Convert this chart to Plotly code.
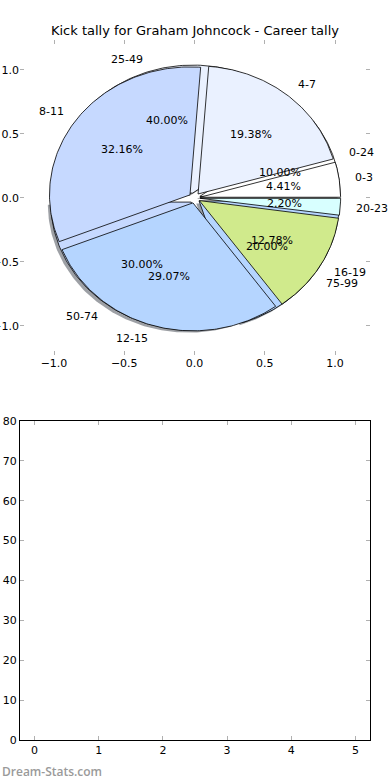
import numpy as np
import plotly.graph_objects as go

title = "Kick tally for Graham Johncock - Career tally"
quarter_labels = ["0-3", "4-7", "8-11", "12-15", "16-19", "20-23"]
quarter_pct = [4.41, 19.38, 32.16, 29.07, 12.78, 2.20]
quarter_colors = ["#ffffff", "#eaf1ff", "#c6d9ff", "#b5d5ff", "#d0ea8c", "#d8ffff"]
score_labels = ["0-24", "25-49", "50-74", "75-99"]
score_pct = [10.0, 40.0, 30.0, 20.0]
score_colors = ["#ffffff", "#eaf1ff", "#c6d9ff", "#b5d5ff"]
pie_ticks = [-1.0, -0.5, 0.0, 0.5, 1.0]
bar_x_ticks = [0, 1, 2, 3, 4, 5]
bar_y_ticks = [0, 10, 20, 30, 40, 50, 60, 70, 80]

EXPLODE = 0.04
FONT = "DejaVu Sans"

fig = go.Figure()
annotations = []


def darken(hexcol, f=0.3):
    h = hexcol.lstrip("#")
    r, g, b = (int(h[i:i + 2], 16) for i in (0, 2, 4))
    return f"rgba({int(r*f)},{int(g*f)},{int(b*f)},0.5)"


def add_pie(labels, values, colors, shadow):
    total = float(sum(values))
    theta1 = 0.0
    for lab, val, col in zip(labels, values, colors):
        frac = val / total
        theta2 = theta1 + frac
        thetam = np.pi * (theta1 + theta2)
        cx = EXPLODE * np.cos(thetam)
        cy = EXPLODE * np.sin(thetam)
        angs = np.linspace(2 * np.pi * theta1, 2 * np.pi * theta2, 120)
        xs = np.concatenate([[cx], cx + np.cos(angs), [cx]])
        ys = np.concatenate([[cy], cy + np.sin(angs), [cy]])
        if shadow:
            fig.add_trace(go.Scatter(x=xs - 0.02, y=ys - 0.02, mode="lines", fill="toself",
                                     fillcolor=darken(col), line=dict(width=0),
                                     hoverinfo="skip", showlegend=False, xaxis="x", yaxis="y"))
        fig.add_trace(go.Scatter(x=xs, y=ys, mode="lines", fill="toself",
                                 fillcolor=col, line=dict(color="black", width=0.8),
                                 name=lab, hoverinfo="name", showlegend=False,
                                 xaxis="x", yaxis="y"))
        xt = cx + 1.1 * np.cos(thetam)
        yt = cy + 1.1 * np.sin(thetam)
        annotations.append(dict(x=xt, y=yt, xref="x", yref="y", text=lab, showarrow=False,
                                xanchor="left" if xt > 0 else "right", yanchor="middle",
                                font=dict(family=FONT, size=11, color="black")))
        xp = cx + 0.6 * np.cos(thetam)
        yp = cy + 0.6 * np.sin(thetam)
        annotations.append(dict(x=xp, y=yp, xref="x", yref="y", text=f"{val:.2f}%",
                                showarrow=False, xanchor="center", yanchor="middle",
                                font=dict(family=FONT, size=11, color="black")))
        theta1 = theta2


add_pie(score_labels, score_pct, score_colors, shadow=True)
add_pie(quarter_labels, quarter_pct, quarter_colors, shadow=False)

# empty bottom axes
fig.add_trace(go.Scatter(x=[], y=[], xaxis="x2", yaxis="y2", showlegend=False))

annotations.append(dict(x=-20 / 350, y=(740 - 771) / 700, xref="paper", yref="paper",
                        text="Dream-Stats.com", showarrow=False, xanchor="left",
                        yanchor="middle",
                        font=dict(family="Open Sans", size=12, color="#9a9a9a", weight=600)))

tickfont = dict(family=FONT, size=11, color="black")
common = dict(showgrid=False, zeroline=False, ticks="inside", ticklen=4,
              tickcolor="#b0b0b0", tickwidth=1, tickfont=tickfont, automargin=False)

fig.update_layout(
    width=390, height=780,
    margin=dict(l=20, r=20, t=40, b=40, autoexpand=False),
    paper_bgcolor="white", plot_bgcolor="white",
    title=dict(text=title, x=0.5, xanchor="center", y=1 - 30 / 780, yanchor="middle",
               font=dict(family=FONT, size=13, color="black")),
    xaxis=dict(domain=[0, 1], range=[-1.242, 1.249], tickvals=pie_ticks, tickformat=".1f",
               showline=False, mirror="ticks", anchor="y", **common),
    yaxis=dict(domain=[0.55, 1], range=[-1.227, 1.234], tickvals=pie_ticks, tickformat=".1f",
               showline=False, mirror="ticks", anchor="x", **common),
    xaxis2=dict(domain=[0, 1], range=[-0.225, 5.225], tickvals=bar_x_ticks,
                showline=True, linecolor="black", linewidth=1, mirror="ticks",
                anchor="y2", **common),
    yaxis2=dict(domain=[0, 0.4557], range=[0, 80], tickvals=bar_y_ticks,
                showline=True, linecolor="black", linewidth=1, mirror="ticks",
                anchor="x2", **common),
    annotations=annotations,
    hovermode="closest",
)

fig.write_html("out.html", config={"displayModeBar": False},
               post_script="document.body.style.margin='0';document.body.style.overflow='hidden';")
